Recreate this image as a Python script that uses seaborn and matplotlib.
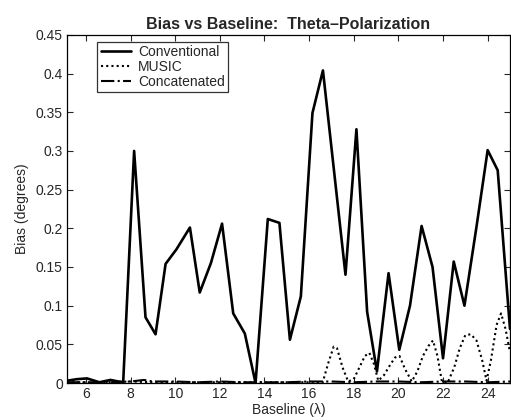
import numpy as np
import pandas as pd
import matplotlib
matplotlib.use("Agg")
import matplotlib.pyplot as plt
import seaborn as sns

# Conventional
conv_x = [5.15, 5.6, 6.05, 6.6, 7.1, 7.45, 7.67, 8.16, 8.67, 9.12, 9.57, 10.06, 10.66, 11.1, 11.6,
          12.1, 12.6, 13.12, 13.6, 14.15, 14.67, 15.14, 15.63, 16.15, 16.62, 17.63, 18.12, 18.6,
          19.04, 19.56, 20.04, 20.52, 21.04, 21.53, 22.0, 22.48, 22.96, 23.5, 24.0, 24.45, 25.0]
conv_y = [0.003, 0.005, 0.006, 0.001, 0.004, 0.002, 0.001, 0.300, 0.085, 0.063, 0.154, 0.173, 0.201, 0.117, 0.155,
          0.206, 0.090, 0.064, 0.0, 0.212, 0.207, 0.056, 0.112, 0.349, 0.404, 0.140, 0.328, 0.092,
          0.015, 0.142, 0.043, 0.100, 0.203, 0.150, 0.032, 0.157, 0.100, 0.202, 0.301, 0.275, 0.070]

# MUSIC
music_x = [5.15, 6.0, 7.0, 8.0, 9.0, 10.0, 11.0, 12.0, 13.0, 14.0, 15.0, 16.0, 16.6, 16.85, 17.1, 17.25,
           17.5, 17.75, 18.0, 18.25, 18.5, 18.7, 18.9, 19.1, 19.35, 19.6, 19.85, 20.05, 20.3, 20.6,
           20.85, 21.1, 21.35, 21.55, 21.75, 21.95, 22.2, 22.5, 22.75, 23.0, 23.25, 23.5, 23.75,
           23.95, 24.15, 24.4, 24.6, 24.8, 25.0]
music_y = [0.001, 0.001, 0.001, 0.002, 0.001, 0.001, 0.001, 0.001, 0.001, 0.001, 0.001, 0.001, 0.0, 0.025, 0.047, 0.045,
           0.020, 0.002, 0.005, 0.020, 0.035, 0.039, 0.025, 0.003, 0.010, 0.022, 0.033, 0.035, 0.018, 0.002,
           0.015, 0.035, 0.048, 0.055, 0.035, 0.002, 0.0, 0.020, 0.045, 0.062, 0.063, 0.055, 0.030,
           0.003, 0.030, 0.075, 0.090, 0.070, 0.040]

# Concatenated
conc_x = [5.15, 6.0, 7.0, 8.0, 8.6, 9.0, 10.0, 11.0, 12.0, 13.0, 14.0, 15.0, 16.0, 17.0, 18.0,
          19.0, 20.0, 21.0, 22.0, 23.0, 24.0, 25.0]
conc_y = [0.001, 0.001, 0.001, 0.002, 0.004, 0.002, 0.002, 0.001, 0.002, 0.001, 0.001, 0.001, 0.002, 0.002, 0.001,
          0.002, 0.002, 0.001, 0.002, 0.002, 0.001, 0.002]

labels = ["Conventional", "MUSIC", "Concatenated"]
xticks = [6, 8, 10, 12, 14, 16, 18, 20, 22, 24]
yticks = [0, 0.05, 0.1, 0.15, 0.2, 0.25, 0.3, 0.35, 0.4, 0.45]
ytick_labels = ["0", "0.05", "0.1", "0.15", "0.2", "0.25", "0.3", "0.35", "0.4", "0.45"]

df = pd.concat([
    pd.DataFrame({"x": conv_x, "y": conv_y, "method": labels[0]}),
    pd.DataFrame({"x": music_x, "y": music_y, "method": labels[1]}),
    pd.DataFrame({"x": conc_x, "y": conc_y, "method": labels[2]}),
])

sns.set_style("ticks")
plt.rcParams["font.family"] = ["Liberation Sans", "DejaVu Sans"]

fig = plt.figure(figsize=(5.11, 4.2), dpi=100)
ax = fig.add_axes([0.131, 0.088, 0.867, 0.829])

styles = {labels[0]: dict(ls="-", lw=1.9), labels[1]: dict(ls=(0, (1, 1.5)), lw=1.5),
          labels[2]: dict(ls="-.", lw=1.5)}
for lab in labels:
    sub = df[df["method"] == lab]
    sns.lineplot(data=sub, x="x", y="y", ax=ax, color="black", label=lab,
                 linestyle=styles[lab]["ls"], linewidth=styles[lab]["lw"], sort=False)

ax.set_xlim(5.15, 25.0)
ax.set_ylim(0, 0.45)
ax.set_xticks(xticks)
ax.set_yticks(yticks)
ax.set_yticklabels(ytick_labels)
ax.tick_params(direction="in", top=True, right=True, labelsize=10, length=4, width=0.8, pad=3)
for s in ax.spines.values():
    s.set_linewidth(0.9)
    s.set_color("black")

ax.set_title("Bias vs Baseline:  Theta\u2013Polarization", fontsize=11.5, fontweight="bold", pad=4)
ax.set_xlabel("Baseline (\u03bb)", fontsize=10, labelpad=1)
ax.set_ylabel("Bias (degrees)", fontsize=10, labelpad=5)

leg = ax.legend(loc="upper left", bbox_to_anchor=(0.068, 0.98), fontsize=10, frameon=True,
                fancybox=False, edgecolor="black", handlelength=2.2, borderpad=0.25,
                labelspacing=0.05, handletextpad=0.5, borderaxespad=0.0)
leg.get_frame().set_linewidth(0.9)

fig.savefig("out.png", dpi=100)
